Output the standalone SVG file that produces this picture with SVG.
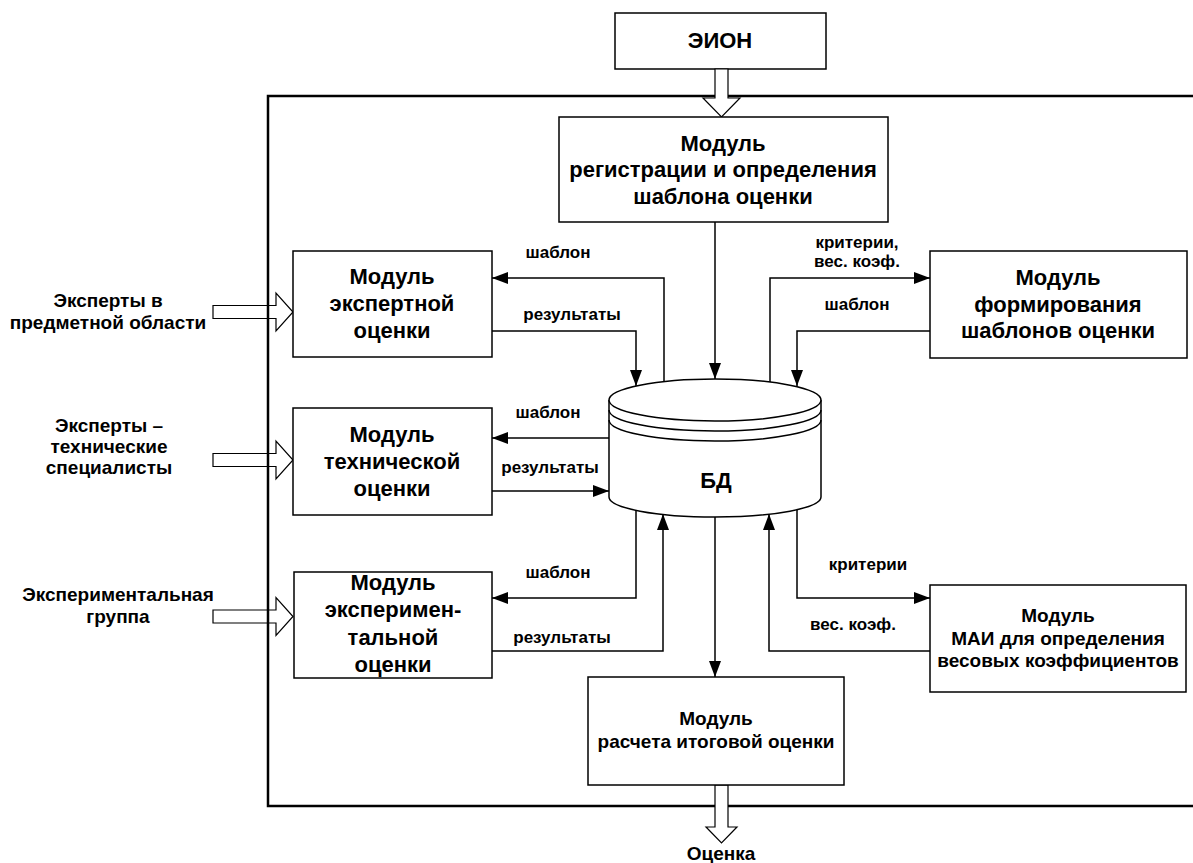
<svg xmlns="http://www.w3.org/2000/svg" width="1193" height="863" viewBox="0 0 1193 863">
<style>
text{font-family:"Liberation Sans",Arial,sans-serif;font-weight:bold;fill:#000;text-anchor:middle}
.t{font-size:22px}
.m{font-size:19px}
.l{font-size:17px}
.box{fill:#fff;stroke:#000;stroke-width:1.5}
.c{fill:none;stroke:#000;stroke-width:1.5}
.h{fill:#fff;stroke:#000;stroke-width:1.2}
</style>
<defs>
<marker id="a" viewBox="0 0 16 12" refX="16" refY="6" markerWidth="16" markerHeight="12" markerUnits="userSpaceOnUse" orient="auto">
<path d="M0,0 L16,6 L0,12 Z" fill="#000"/>
</marker>
</defs>
<rect width="1193" height="863" fill="#fff"/>

<g id="inputs">
<polygon class="h" points="213,305.5 276,305.5 276,293 293,312 276,331 276,318.5 213,318.5"/>
<polygon class="h" points="213,453.5 276,453.5 276,441 293,460 276,479 276,466.5 213,466.5"/>
<polygon class="h" points="213,610 276,610 276,597.5 293,616.5 276,635.5 276,623 213,623"/>
<text class="m" x="108" y="307">Эксперты в</text>
<text class="m" x="108" y="329">предметной области</text>
<text class="m" x="109" y="432">Эксперты –</text>
<text class="m" x="109" y="453">технические</text>
<text class="m" x="109" y="474">специалисты</text>
<text class="m" x="118" y="601">Экспериментальная</text>
<text class="m" x="118" y="623">группа</text>
</g>

<g id="frame">
<path d="M1196,96 H268 V806 H1196" fill="none" stroke="#000" stroke-width="2.5"/>
</g>

<g id="eion">
<rect class="box" x="615" y="13" width="211" height="56"/>
<text class="t" x="720" y="48">ЭИОН</text>
<polygon class="h" points="715,69 728,69 728,98 740,98 721.5,117 703,98 715,98"/>
</g>

<g id="output">
<polygon class="h" points="715,785 728,785 728,827 737,827 721.5,843 706,827 715,827"/>
<text class="m" x="721" y="860">Оценка</text>
</g>

<g id="connectors">
<path class="c" d="M715,222 V379" marker-end="url(#a)"/>
<path class="c" d="M664,382 V278 H492" marker-end="url(#a)"/>
<path class="c" d="M492,331 H636 V386" marker-end="url(#a)"/>
<path class="c" d="M609,438 H492" marker-end="url(#a)"/>
<path class="c" d="M492,491 H609" marker-end="url(#a)"/>
<path class="c" d="M636,510 V598 H492" marker-end="url(#a)"/>
<path class="c" d="M492,651 H663 V514" marker-end="url(#a)"/>
<path class="c" d="M715,517 V677" marker-end="url(#a)"/>
<path class="c" d="M930,651 H769 V514" marker-end="url(#a)"/>
<path class="c" d="M797,510 V598 H930" marker-end="url(#a)"/>
<path class="c" d="M770,382 V278 H930" marker-end="url(#a)"/>
<path class="c" d="M930,331 H797 V386" marker-end="url(#a)"/>
<text class="l" x="558" y="258">шаблон</text>
<text class="l" x="572" y="320">результаты</text>
<text class="l" x="548" y="418">шаблон</text>
<text class="l" x="550" y="473">результаты</text>
<text class="l" x="558" y="578">шаблон</text>
<text class="l" x="562" y="643">результаты</text>
<text class="l" x="857" y="248">критерии,</text>
<text class="l" x="857" y="267">вес. коэф.</text>
<text class="l" x="857" y="310">шаблон</text>
<text class="l" x="868" y="570">критерии</text>
<text class="l" x="853" y="630">вес. коэф.</text>
</g>

<g id="db">
<path d="M609,400 V497 A106,20 0 0 0 821,497 V400" fill="#fff" stroke="#000" stroke-width="1.5"/>
<ellipse cx="715" cy="400" rx="106" ry="21" fill="#fff" stroke="#000" stroke-width="1.5"/>
<path class="c" d="M609,410 A106,21 0 0 0 821,410"/>
<path class="c" d="M609,420 A106,21 0 0 0 821,420"/>
<text class="t" x="716" y="488">БД</text>
</g>

<g id="reg">
<rect class="box" x="559" y="117" width="329" height="105"/>
<text class="t" x="723" y="151">Модуль</text>
<text class="t" x="723" y="177">регистрации и определения</text>
<text class="t" x="723" y="204">шаблона оценки</text>
</g>

<g id="expert">
<rect class="box" x="293" y="251" width="199" height="106"/>
<text class="t" x="392" y="284">Модуль</text>
<text class="t" x="392" y="311">экспертной</text>
<text class="t" x="392" y="338">оценки</text>
</g>

<g id="tech">
<rect class="box" x="293" y="408" width="199" height="107"/>
<text class="t" x="392" y="442">Модуль</text>
<text class="t" x="392" y="469">технической</text>
<text class="t" x="392" y="496">оценки</text>
</g>

<g id="exper">
<rect class="box" x="294" y="572" width="198" height="106"/>
<text class="t" x="393" y="590">Модуль</text>
<text class="t" x="393" y="617">эксперимен-</text>
<text class="t" x="393" y="645">тальной</text>
<text class="t" x="393" y="672">оценки</text>
</g>

<g id="form">
<rect class="box" x="930" y="251" width="257" height="107"/>
<text class="t" x="1058" y="285">Модуль</text>
<text class="t" x="1058" y="312">формирования</text>
<text class="t" x="1058" y="338">шаблонов оценки</text>
</g>

<g id="mai">
<rect class="box" x="930" y="585" width="256" height="107"/>
<text class="m" x="1058" y="622">Модуль</text>
<text class="m" x="1058" y="645">МАИ для определения</text>
<text class="m" x="1058" y="667">весовых коэффициентов</text>
</g>

<g id="final">
<rect class="box" x="588" y="677" width="256" height="108"/>
<text class="m" x="716" y="725">Модуль</text>
<text class="m" x="716" y="748">расчета итоговой оценки</text>
</g>
</svg>
